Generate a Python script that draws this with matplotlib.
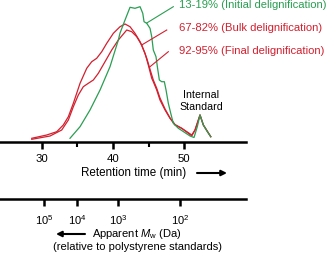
import numpy as np
import matplotlib
matplotlib.use("Agg")
import matplotlib.pyplot as plt

plt.rcParams['font.family'] = ['Liberation Sans', 'DejaVu Sans']
plt.rcParams['mathtext.fontset'] = 'custom'
plt.rcParams['mathtext.rm'] = 'Liberation Sans'
plt.rcParams['mathtext.it'] = 'Liberation Sans:italic'

# retention time (min) and detector response (arb. units)
t_green = [33.97, 35.38, 36.78, 38.19, 39.59, 40.76, 41.00, 41.70, 42.40, 43.10,
           43.81, 44.19, 44.37, 44.75, 45.21, 45.45, 45.67, 46.05, 46.24, 46.52,
           46.85, 47.22, 47.46, 47.78, 48.12, 48.48, 49.19, 50.13, 50.83, 51.39,
           51.85, 52.23, 52.70, 53.26, 53.74]
i_green = [3.4, 15.0, 31.7, 51.7, 75.0, 101.7, 108.7, 121.7, 134.4, 133.4,
           135.0, 128.4, 120.0, 118.4, 113.4, 105.0, 91.7, 85.0, 75.0, 61.7,
           60.0, 60.0, 51.7, 38.4, 28.4, 18.4, 13.4, 9.0, 5.7, 4.2,
           15.0, 26.7, 16.7, 10.0, 5.0]

t_bulk = [28.60, 30.70, 32.11, 33.03, 33.74, 34.44, 35.38, 36.32, 37.02, 37.72,
          38.43, 39.13, 40.06, 41.00, 41.70, 42.40, 43.10, 43.81, 44.51, 44.97,
          45.45, 45.67, 46.15, 46.61, 47.32, 48.02, 48.72, 49.66, 50.59, 51.07,
          51.53, 52.23, 52.70, 53.74]
i_bulk = [3.4, 6.7, 10.0, 16.7, 25.0, 38.4, 58.4, 73.4, 80.0, 83.4,
          90.0, 98.4, 108.4, 115.0, 117.7, 115.0, 108.4, 100.0, 88.4, 76.7,
          63.4, 60.0, 51.7, 41.7, 31.7, 23.4, 16.7, 13.4, 9.0, 6.7,
          11.7, 26.7, 16.7, 5.0]

t_final = [28.60, 31.17, 32.81, 33.74, 34.44, 35.14, 35.84, 36.54, 37.25, 37.95,
           38.89, 39.83, 40.76, 41.94, 42.64, 43.34, 44.04, 44.75, 45.31, 45.67,
           46.15, 46.61, 47.32, 48.02, 48.72, 49.66, 50.59, 51.07, 51.53, 52.23,
           52.70, 53.74]
i_final = [2.4, 5.7, 11.7, 21.7, 35.0, 46.7, 55.0, 58.4, 61.7, 68.4,
           80.0, 91.7, 101.7, 111.7, 110.0, 105.0, 96.7, 83.4, 70.0, 61.7,
           53.4, 43.7, 32.7, 23.7, 17.2, 13.4, 8.4, 5.7, 11.7, 26.7,
           16.7, 5.0]

labels = ['13-19% (Initial delignification)',
          '67-82% (Bulk delignification)',
          '92-95% (Final delignification)']

rt_ticks = [30, 40, 50]
rt_minor = [35, 45]
mw_pos = [30.3, 34.96, 40.7, 49.4]          # retention time of each Mw mark
mw_labels = ['$10^5$', '$10^4$', '$10^3$', '$10^2$']

GREEN = '#2a9e52'
RED = '#d2202f'

W, H = 332, 256
fig = plt.figure(figsize=(W / 100, H / 100), dpi=100)


def px(x, y):
    # pixel (from top-left) -> figure fraction
    return x / W, 1 - y / H


xlim = (24.14, 58.69)
ax = fig.add_axes([0, 1 - 141.7 / H, 246 / W, 141.7 / H])
ax.set_xlim(xlim)
ax.set_ylim(0, 141.7)
ax.patch.set_alpha(0)
for s in ['top', 'right', 'left']:
    ax.spines[s].set_visible(False)
ax.spines['bottom'].set_linewidth(1.8)
ax.set_yticks([])
ax.set_xticks(rt_ticks)
ax.set_xticks(rt_minor, minor=True)
ax.tick_params(axis='x', which='major', direction='out', length=5, width=1.8,
               labelsize=8.2, pad=4)
ax.tick_params(axis='x', which='minor', direction='out', length=3.5, width=1.5)

ax.plot(t_bulk, i_bulk, color=RED, lw=0.9, clip_on=False)
ax.plot(t_final, i_final, color=RED, lw=0.9, clip_on=False)
ax.plot(t_green, i_green, color=GREEN, lw=0.9, clip_on=False)

# pointer lines and labels
ax.plot([44.75, 48.48], [118.7, 135], color=GREEN, lw=0.8, clip_on=False)
ax.plot([44.04, 47.56], [96.7, 111.7], color=RED, lw=0.8, clip_on=False)
ax.plot([45.21, 47.78], [75, 90], color=RED, lw=0.8, clip_on=False)
ax.text(49.28, 136.7, labels[0], color=GREEN, fontsize=8.1, va='center', ha='left')
ax.text(49.28, 113.7, labels[1], color=RED, fontsize=8.1, va='center', ha='left')
ax.text(49.28, 90.7, labels[2], color=RED, fontsize=8.1, va='center', ha='left')
fig.text(*px(201, 101), 'Internal\nStandard', fontsize=7.7, ha='center',
         va='center', linespacing=1.15)

fig.text(*px(134, 173), 'Retention time (min)', fontsize=8.4, ha='center', va='center')
ax.annotate('', xy=px(227, 173), xytext=px(197, 173), xycoords='figure fraction',
            textcoords='figure fraction',
            arrowprops=dict(arrowstyle='-|>', color='black', lw=1.5,
                            mutation_scale=8, shrinkA=0, shrinkB=0))

# molecular weight axis
ax2 = fig.add_axes([0, 1 - 199 / H, 246 / W, 0.01])
ax2.set_xlim(xlim)
ax2.patch.set_alpha(0)
for s in ['top', 'right', 'left']:
    ax2.spines[s].set_visible(False)
ax2.spines['bottom'].set_linewidth(1.8)
ax2.set_yticks([])
ax2.set_xticks(mw_pos)
ax2.set_xticklabels(mw_labels)
ax2.tick_params(axis='x', direction='out', length=5, width=1.8, labelsize=8, pad=5)

fig.text(*px(137, 234), 'Apparent $\\mathit{M}_\\mathrm{w}$ (Da)', fontsize=8.0,
         ha='center', va='center')
fig.text(*px(137.5, 247.5), '(relative to polystyrene standards)', fontsize=8.0,
         ha='center', va='center')
ax.annotate('', xy=px(56, 234), xytext=px(85, 234), xycoords='figure fraction',
            textcoords='figure fraction',
            arrowprops=dict(arrowstyle='-|>', color='black', lw=1.5,
                            mutation_scale=8, shrinkA=0, shrinkB=0))

fig.savefig('out.png', dpi=100, facecolor='white')
